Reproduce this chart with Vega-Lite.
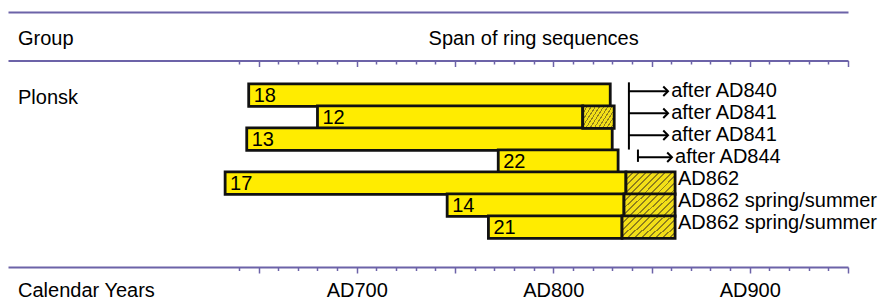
{
  "$schema": "https://vega.github.io/schema/vega-lite/v6.json",
  "width": 840,
  "height": 255,
  "padding": {"left": 8, "right": 31, "top": 12, "bottom": 39},
  "autosize": {"type": "none"},
  "background": "white",
  "config": {"view": {"stroke": null}, "font": "Liberation Sans"},
  "datasets": {
    "rows": [
      {"row": 1, "sample": "18", "start": 645, "end": 829, "label": "after AD840", "labelX": 860},
      {"row": 2, "sample": "12", "start": 680, "end": 815, "sapEnd": 831, "label": "after AD841", "labelX": 860},
      {"row": 3, "sample": "13", "start": 644, "end": 830, "label": "after AD841", "labelX": 860},
      {"row": 4, "sample": "22", "start": 772, "end": 833, "label": "after AD844", "labelX": 862},
      {"row": 5, "sample": "17", "start": 633, "end": 837, "sapEnd": 862, "label": "AD862", "labelX": 863.5},
      {"row": 6, "sample": "14", "start": 746, "end": 836, "sapEnd": 862, "label": "AD862 spring/summer", "labelX": 863.5},
      {"row": 7, "sample": "21", "start": 767, "end": 835, "sapEnd": 862, "label": "AD862 spring/summer", "labelX": 863.5}
    ],
    "arrows": [
      {"row": 1, "from": 838.5, "to": 858.4},
      {"row": 2, "from": 838.5, "to": 858.4},
      {"row": 3, "from": 838.5, "to": 858.4},
      {"row": 4, "from": 843.1, "to": 860.4}
    ],
    "brackets": [
      {"x": 838.5, "top": 0.415, "bottom": 3.47},
      {"x": 843.1, "top": 3.47, "bottom": 4.03}
    ],
    "notes": [
      {"text": "Group", "year": 527.6, "row": -1.55},
      {"text": "Plonsk", "year": 527.6, "row": 1.13},
      {"text": "Calendar Years", "year": 527.6, "row": 9.9}
    ]
  },
  "layer": [
    {
      "data": {"name": "rows"},
      "mark": {"type": "bar", "height": 22.5, "fill": "#ffec00", "stroke": "#111111", "strokeWidth": 2.8},
      "encoding": {
        "x": {
          "field": "start", "type": "quantitative",
          "scale": {"domain": [522.5, 950], "nice": false, "zero": false},
          "axis": {
            "orient": "bottom", "title": null, "grid": false,
            "values": [640, 650, 660, 670, 680, 690, 700, 710, 720, 730, 740, 750, 760, 770, 780, 790, 800, 810, 820, 830, 840, 850, 860, 870, 880, 890, 900, 910, 920, 930, 940, 950],
            "domainColor": "#6c63a8", "domainWidth": 2,
            "tickColor": "#6c63a8", "tickWidth": 1.5,
            "tickSize": {"condition": {"test": "datum.value % 50 === 0", "value": 6}, "value": 3.5},
            "labelExpr": "datum.value % 100 === 0 ? 'AD' + datum.value : ''",
            "labelFont": "Liberation Sans", "labelFontSize": 20, "labelColor": "#000000",
            "labelPadding": 7, "labelFlush": false, "labelOverlap": false, "labelBound": false
          }
        },
        "x2": {"field": "end"},
        "y": {"field": "row", "type": "quantitative", "scale": {"domain": [-2.555, 8.581], "reverse": true, "nice": false, "zero": false}, "axis": null}
      }
    },
    {
      "data": {"name": "rows"},
      "transform": [{"filter": "isValid(datum.sapEnd)"}],
      "mark": {
        "type": "bar", "height": 22.5, "stroke": "#111111", "strokeWidth": 2.8,
        "fill": {
          "gradient": "linear", "x1": 0, "y1": 0, "x2": 1.205, "y2": 0.551,
          "stops": [
            {"offset": 0, "color": "#8f7f1c"}, {"offset": 0.026, "color": "#8f7f1c"}, {"offset": 0.026, "color": "#f2df18"}, {"offset": 0.0909, "color": "#f2df18"},
            {"offset": 0.0909, "color": "#8f7f1c"}, {"offset": 0.1169, "color": "#8f7f1c"}, {"offset": 0.1169, "color": "#f2df18"}, {"offset": 0.1818, "color": "#f2df18"},
            {"offset": 0.1818, "color": "#8f7f1c"}, {"offset": 0.2078, "color": "#8f7f1c"}, {"offset": 0.2078, "color": "#f2df18"}, {"offset": 0.2727, "color": "#f2df18"},
            {"offset": 0.2727, "color": "#8f7f1c"}, {"offset": 0.2987, "color": "#8f7f1c"}, {"offset": 0.2987, "color": "#f2df18"}, {"offset": 0.3636, "color": "#f2df18"},
            {"offset": 0.3636, "color": "#8f7f1c"}, {"offset": 0.3896, "color": "#8f7f1c"}, {"offset": 0.3896, "color": "#f2df18"}, {"offset": 0.4545, "color": "#f2df18"},
            {"offset": 0.4545, "color": "#8f7f1c"}, {"offset": 0.4805, "color": "#8f7f1c"}, {"offset": 0.4805, "color": "#f2df18"}, {"offset": 0.5455, "color": "#f2df18"},
            {"offset": 0.5455, "color": "#8f7f1c"}, {"offset": 0.5715, "color": "#8f7f1c"}, {"offset": 0.5715, "color": "#f2df18"}, {"offset": 0.6364, "color": "#f2df18"},
            {"offset": 0.6364, "color": "#8f7f1c"}, {"offset": 0.6624, "color": "#8f7f1c"}, {"offset": 0.6624, "color": "#f2df18"}, {"offset": 0.7273, "color": "#f2df18"},
            {"offset": 0.7273, "color": "#8f7f1c"}, {"offset": 0.7533, "color": "#8f7f1c"}, {"offset": 0.7533, "color": "#f2df18"}, {"offset": 0.8182, "color": "#f2df18"},
            {"offset": 0.8182, "color": "#8f7f1c"}, {"offset": 0.8442, "color": "#8f7f1c"}, {"offset": 0.8442, "color": "#f2df18"}, {"offset": 0.9091, "color": "#f2df18"},
            {"offset": 0.9091, "color": "#8f7f1c"}, {"offset": 0.9351, "color": "#8f7f1c"}, {"offset": 0.9351, "color": "#f2df18"}, {"offset": 1, "color": "#f2df18"}
          ]
        }
      },
      "encoding": {
        "x": {
          "field": "end", "type": "quantitative",
          "axis": {
            "orient": "bottom", "offset": -206.5, "title": null, "grid": false, "labels": false,
            "values": [640, 650, 660, 670, 680, 690, 700, 710, 720, 730, 740, 750, 760, 770, 780, 790, 800, 810, 820, 830, 840, 850, 860, 870, 880, 890, 900, 910, 920, 930, 940, 950],
            "domainColor": "#6c63a8", "domainWidth": 2,
            "tickColor": "#6c63a8", "tickWidth": 1.5,
            "tickSize": {"condition": {"test": "datum.value % 50 === 0", "value": 6}, "value": 3.5}
          }
        },
        "x2": {"field": "sapEnd"},
        "y": {"field": "row", "type": "quantitative", "axis": null}
      }
    },
    {
      "data": {"name": "rows"},
      "mark": {"type": "text", "align": "left", "baseline": "middle", "dx": 5, "dy": 1, "fontSize": 20, "color": "#000000"},
      "encoding": {
        "x": {
          "field": "start", "type": "quantitative",
          "axis": {"orient": "top", "title": null, "grid": false, "labels": false, "ticks": false, "domainColor": "#6c63a8", "domainWidth": 2}
        },
        "y": {"field": "row", "type": "quantitative", "axis": null},
        "text": {"field": "sample"}
      }
    },
    {
      "data": {"name": "rows"},
      "mark": {"type": "text", "align": "left", "baseline": "middle", "dy": -4, "fontSize": 20, "color": "#000000"},
      "encoding": {
        "x": {"field": "labelX", "type": "quantitative", "axis": null},
        "y": {"field": "row", "type": "quantitative", "axis": null},
        "text": {"field": "label"}
      }
    },
    {
      "data": {"name": "arrows"},
      "mark": {"type": "rule", "color": "#000000", "strokeWidth": 2, "yOffset": -4},
      "encoding": {
        "x": {"field": "from", "type": "quantitative", "axis": null},
        "x2": {"field": "to"},
        "y": {"field": "row", "type": "quantitative", "axis": null}
      }
    },
    {
      "data": {"name": "arrows"},
      "mark": {"type": "point", "shape": "M-1,-1L0,0L-1,1", "filled": false, "stroke": "#000000", "strokeWidth": 2, "size": 90, "yOffset": -4, "opacity": 1},
      "encoding": {
        "x": {"field": "to", "type": "quantitative", "axis": null},
        "y": {"field": "row", "type": "quantitative", "axis": null}
      }
    },
    {
      "data": {"name": "brackets"},
      "mark": {"type": "rule", "color": "#000000", "strokeWidth": 2},
      "encoding": {
        "x": {"field": "x", "type": "quantitative", "axis": null},
        "y": {"field": "top", "type": "quantitative", "axis": null},
        "y2": {"field": "bottom"}
      }
    },
    {
      "data": {"name": "notes"},
      "mark": {"type": "text", "align": "left", "baseline": "middle", "fontSize": 20, "color": "#000000"},
      "encoding": {
        "x": {"field": "year", "type": "quantitative", "axis": null},
        "y": {"field": "row", "type": "quantitative", "axis": null},
        "text": {"field": "text"}
      }
    },
    {
      "data": {"values": [{"title": "Span of ring sequences"}]},
      "mark": {"type": "text", "align": "center", "baseline": "middle", "fontSize": 20, "color": "#000000"},
      "encoding": {
        "x": {"datum": 790, "type": "quantitative", "axis": null},
        "y": {"datum": -1.55, "type": "quantitative", "axis": null},
        "text": {"field": "title"}
      }
    }
  ],
  "resolve": {"axis": {"x": "independent"}}
}
